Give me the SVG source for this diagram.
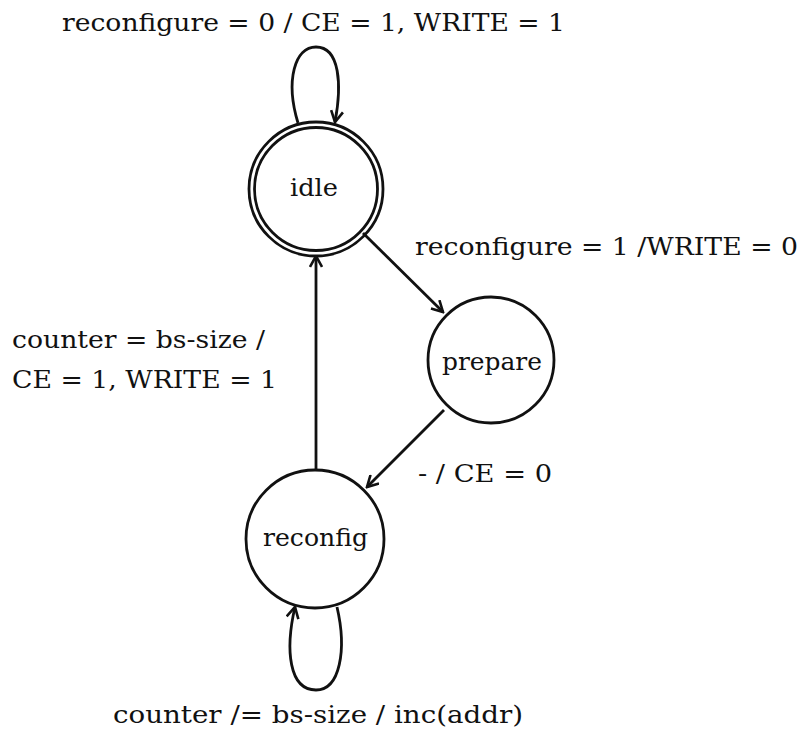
<svg xmlns="http://www.w3.org/2000/svg" width="805" height="729" viewBox="0 0 805 729">
<defs>
<style>
text{font-family:"DejaVu Serif","Liberation Serif",serif;font-size:24px;fill:#111}
.node{fill:none;stroke:#111;stroke-width:2.8}
.edge{fill:none;stroke:#111;stroke-width:2.8}
</style>
<marker id="arr" viewBox="0 0 14 14" refX="12.5" refY="7" markerWidth="14" markerHeight="14" markerUnits="userSpaceOnUse" orient="auto">
<path d="M1.5,1 L12.5,7 L1.5,13" fill="none" stroke="#111" stroke-width="2.6"/>
</marker>
</defs>
<rect width="805" height="729" fill="#fff"/>
<g id="idle">
<circle class="node" cx="316" cy="189" r="67"/>
<circle class="node" cx="316" cy="189" r="61.5"/>
<text x="290" y="196" textLength="48" lengthAdjust="spacingAndGlyphs">idle</text>
</g>
<g id="prepare">
<circle class="node" cx="491" cy="360" r="63"/>
<text x="442" y="370" textLength="100" lengthAdjust="spacingAndGlyphs">prepare</text>
</g>
<g id="reconfig">
<circle class="node" cx="315" cy="539" r="69"/>
<text x="263" y="546" textLength="105" lengthAdjust="spacingAndGlyphs">reconfig</text>
</g>
<g id="connectors">
<path class="edge" d="M298,123 C285,80 295,47 316,47 C340,47 342,85 335,122" marker-end="url(#arr)"/>
<path class="edge" d="M363,233 L443,312" marker-end="url(#arr)"/>
<path class="edge" d="M444,410 L367,487" marker-end="url(#arr)"/>
<path class="edge" d="M316,470 L316,256" marker-end="url(#arr)"/>
<path class="edge" d="M337,607 C347,650 340,690 316,690 C289,690 285,650 295,607" marker-end="url(#arr)"/>
</g>
<g id="labels">
<text x="62" y="31" textLength="503" lengthAdjust="spacingAndGlyphs">reconfigure = 0 / CE = 1, WRITE = 1</text>
<text x="415" y="255" textLength="383" lengthAdjust="spacingAndGlyphs">reconfigure = 1 /WRITE = 0</text>
<text x="12" y="348" textLength="253" lengthAdjust="spacingAndGlyphs">counter = bs-size /</text>
<text x="12" y="388" textLength="265" lengthAdjust="spacingAndGlyphs">CE = 1, WRITE = 1</text>
<text x="418" y="482" textLength="134" lengthAdjust="spacingAndGlyphs">- / CE = 0</text>
<text x="113" y="723" textLength="410" lengthAdjust="spacingAndGlyphs">counter /= bs-size / inc(addr)</text>
</g>
</svg>
